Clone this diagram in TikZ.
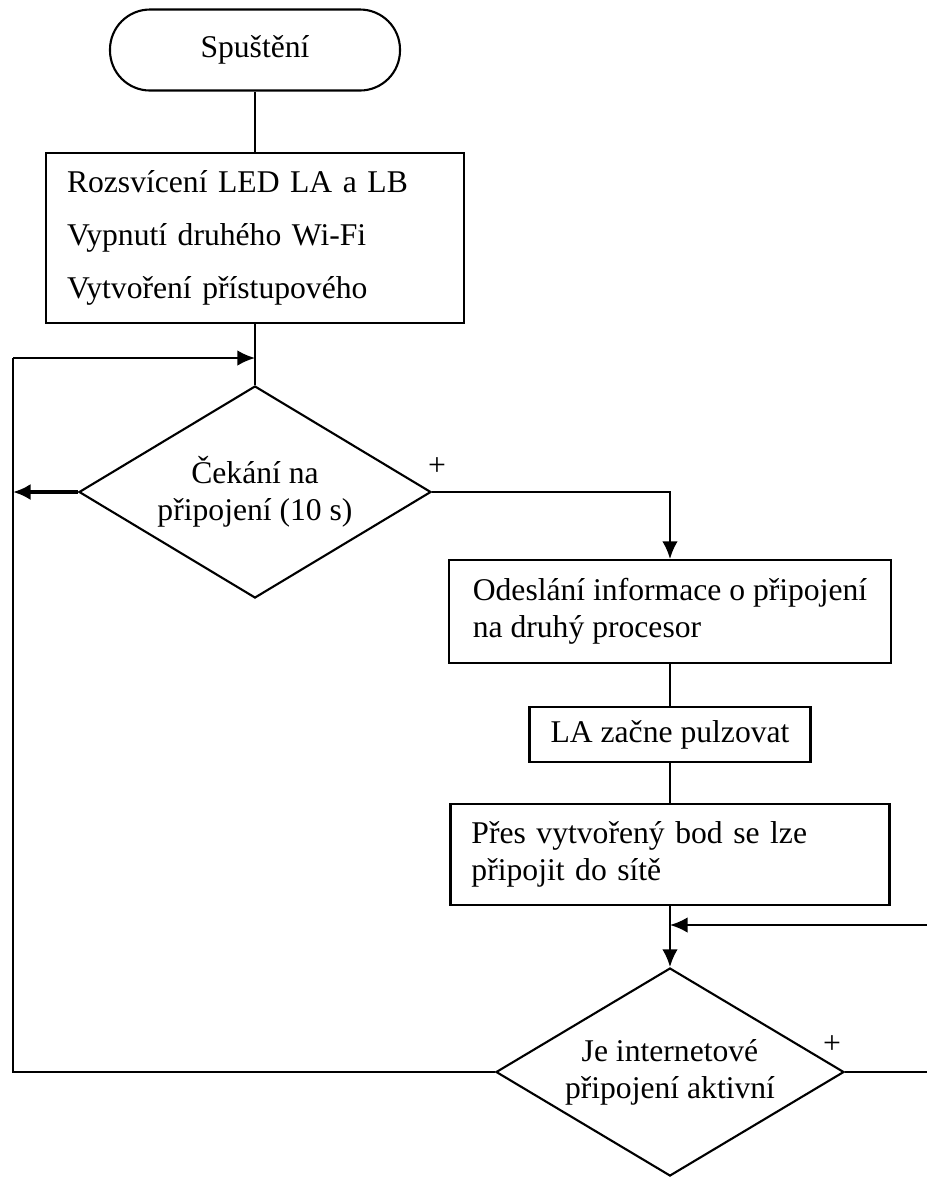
\documentclass[tikz,border=0pt]{standalone}
\usepackage{fontspec}
\setmainfont{Liberation Serif}
\usetikzlibrary{arrows.meta,shapes.geometric}

\tikzset{
  terminal/.style={draw, line width=0.6pt, rectangle, rounded corners=0.4cm,
    minimum width=2.90cm, minimum height=0.81cm, font=\fontsize{9pt}{10.5pt}\selectfont},
  flowbox/.style={draw, line width=0.6pt, rectangle, inner xsep=0.21cm, inner ysep=0pt,
    align=left, font=\fontsize{9pt}{10.5pt}\selectfont},
  decision/.style={draw, line width=0.6pt, diamond, aspect=1.66, inner sep=0pt, align=center,
    font=\fontsize{9pt}{10.5pt}\selectfont},
  flowline/.style={line width=0.6pt},
  flowarrow/.style={line width=0.6pt, -{Latex[length=5pt,width=4.4pt]}},
}

\begin{document}
\begin{tikzpicture}

\useasboundingbox (0,0) rectangle (9.27,-11.82);
\clip (0,0) rectangle (9.27,-11.82);

\def\leftx{2.55};
\def\rightx{6.70};
\def\loopx{0.13};

% left column:
\node[terminal] (start) at (\leftx,-0.50) {Spuštění};

\node[flowbox, text width=3.76cm, minimum height=1.70cm, font=\fontsize{9pt}{15pt}\selectfont] (init) at (\leftx,-2.38)
  {Rozsvícení LED LA a LB\\Vypnutí druhého Wi-Fi\\Vytvoření přístupového};

\node[decision, minimum width=3.52cm, minimum height=2.12cm] (wait) at (\leftx,-4.92)
  {Čekání na\\připojení (10 s)};

% right column:
\node[flowbox, minimum width=4.42cm, minimum height=1.03cm] (send) at (\rightx,-6.115)
  {Odeslání informace o připojení\\na druhý procesor};

\node[flowbox, align=center, minimum width=2.81cm, minimum height=0.55cm] (pulse) at (\rightx,-7.345)
  {LA začne pulzovat};

\node[flowbox, text width=3.97cm, minimum height=1.01cm] (access) at (\rightx,-8.545)
  {Přes vytvořený bod se lze\\připojit do sítě};

\node[decision, minimum width=3.48cm, minimum height=2.08cm] (check) at (\rightx,-10.72)
  {Je internetové\\připojení aktivní};

% loop coordinates
\coordinate (wait_join) at (\leftx,-3.58);
\coordinate (loop_top) at (\loopx,-3.58);
\coordinate (loop_bottom) at (\loopx,-10.72);
\coordinate (check_join) at (\rightx,-9.25);
\coordinate (back_top) at (9.35,-9.25);
\coordinate (back_bottom) at (9.35,-10.72);

% straight connectors
\draw[flowline] (start) -- (init);
\draw[flowline] (init) -- (wait);
\draw[flowline] (send) -- (pulse);
\draw[flowline] (pulse) -- (access);
\draw[flowarrow] (access) -- (check);

% yes branches
\draw[flowarrow] (wait.east) -| (send.north);
\node (plus_wait) at (4.37,-4.67) {\fontsize{9pt}{10pt}\selectfont +};

\draw[flowline] (check.east) -- (back_bottom) -- (back_top);
\draw[flowarrow] (back_top) -- (check_join);
\node (plus_check) at (8.32,-10.45) {\fontsize{9pt}{10pt}\selectfont +};

% no branches back to the wait
\draw[line width=1.1pt, -{Latex[length=5pt,width=4.6pt]}] (wait.west) -- (wait.west -| loop_top);
\draw[flowline] (check.west) -- (loop_bottom) -- (loop_top);
\draw[flowarrow] (loop_top) -- (wait_join);

\end{tikzpicture}
\end{document}
